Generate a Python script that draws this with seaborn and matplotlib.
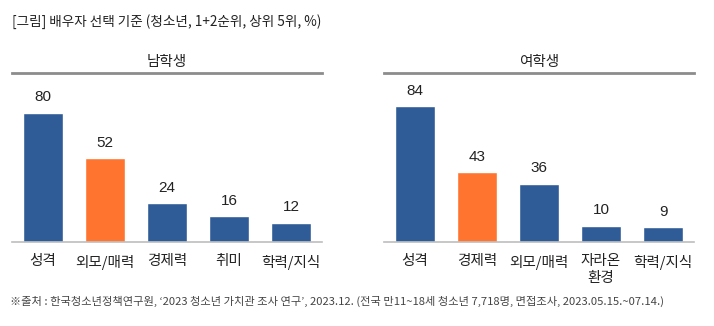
import matplotlib
matplotlib.use("Agg")
import matplotlib.pyplot as plt
import seaborn as sns
import pandas as pd

title = "[그림] 배우자 선택 기준 (청소년, 1+2순위, 상위 5위, %)"
footnote = "※출처 : 한국청소년정책연구원, ‘2023 청소년 가치관 조사 연구’, 2023.12. (전국 만11~18세 청소년 7,718명, 면접조사, 2023.05.15.~07.14.)"

male_title = "남학생"
male_categories = ["성격", "외모/매력", "경제력", "취미", "학력/지식"]
male_values = [80, 52, 24, 16, 12]
male_highlight = "외모/매력"

female_title = "여학생"
female_categories = ["성격", "경제력", "외모/매력", "자라온\n환경", "학력/지식"]
female_values = [84, 43, 36, 10, 9]
female_highlight = "경제력"

BLUE = "#2F5B97"
ORANGE = "#FF742E"

sns.set_theme(style="white")
plt.rcParams["font.family"] = ["Noto Sans CJK KR", "DejaVu Sans"]

fig = plt.figure(figsize=(7.14, 3.26), dpi=100)
W, H = 714, 326

def make_ax(x0, x1, top, bottom):
    return fig.add_axes([x0 / W, 1 - bottom / H, (x1 - x0) / W, (bottom - top) / H])

panels = [
    (make_ax(12, 322, 73, 242), male_title, male_categories, male_values, male_highlight),
    (make_ax(384, 694, 73, 242), female_title, female_categories, female_values, female_highlight),
]

for ax, ptitle, cats, vals, hl in panels:
    df = pd.DataFrame({"cat": cats, "val": vals})
    pal = {c: (ORANGE if c == hl else BLUE) for c in cats}
    sns.barplot(data=df, x="cat", y="val", hue="cat", palette=pal, legend=False,
                width=0.63, ax=ax, saturation=1)
    for cont in ax.containers:
        ax.bar_label(cont, padding=6, fontsize=11, color="#222222",
                     fontfamily=["Liberation Sans", "DejaVu Sans"])
    ax.set_xlim(-0.5, len(cats) - 0.5)
    ax.set_ylim(0, 104.5)
    ax.set_yticks([])
    ax.set_xlabel("")
    ax.set_ylabel("")
    ax.tick_params(axis="x", length=0, pad=9, labelsize=10.5, colors="#222222")
    for s in ["left", "right"]:
        ax.spines[s].set_visible(False)
    ax.spines["top"].set_color("#8C8C8C")
    ax.spines["top"].set_linewidth(2.0)
    ax.spines["bottom"].set_color("#BDBDBD")
    ax.spines["bottom"].set_linewidth(1.2)
    ax.set_title(ptitle, fontsize=10.5, pad=5, color="#222222")

fig.text(12 / W, 1 - 22 / H, title, fontsize=9.8, va="center", ha="left", color="#222222")
fig.text(10 / W, 1 - 301 / H, footnote, fontsize=8.1, va="center", ha="left", color="#444444")

fig.savefig("out.png", dpi=100)
